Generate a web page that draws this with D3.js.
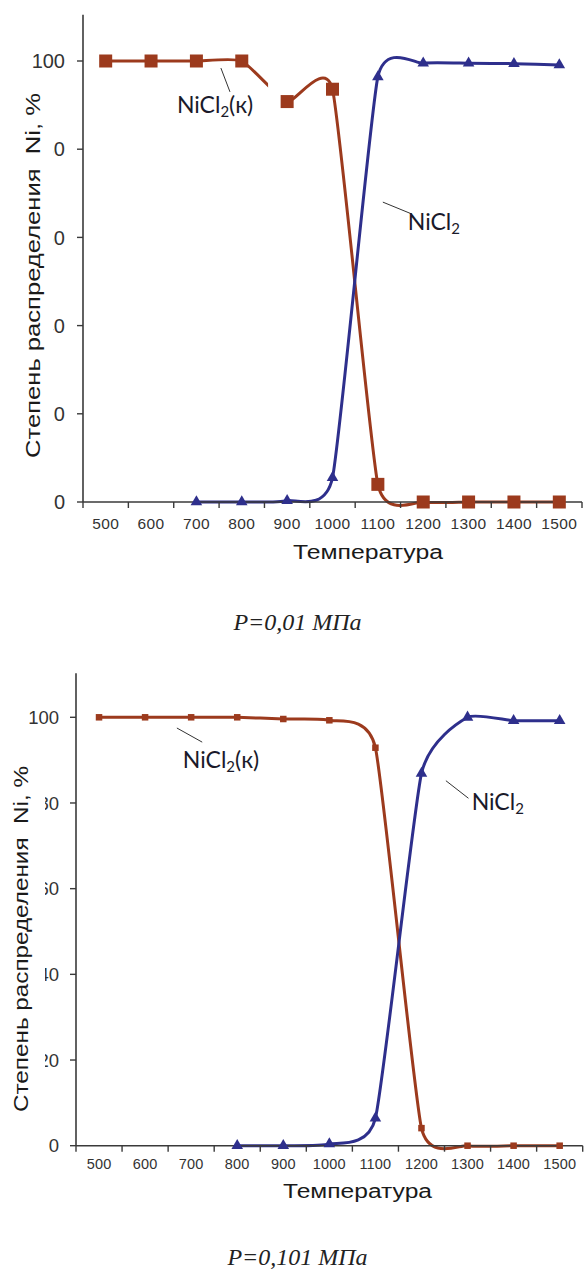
<!DOCTYPE html>
<html>
<head>
<meta charset="utf-8">
<script src="https://cdn.jsdelivr.net/npm/d3@7/dist/d3.min.js"></script>
<style>
  html, body { margin: 0; padding: 0; background: #fff; }
  svg { display: block; }
</style>
</head>
<body>
<svg id="chart" width="584" height="1269"></svg>
<script>
// ---------------- DATA ----------------
const categories = [500, 600, 700, 800, 900, 1000, 1100, 1200, 1300, 1400, 1500];
const yTickValues = [0, 20, 40, 60, 80, 100];

// P = 0.01 MPa
const solidTop = [100, 100, 100, 100, 90.8, 93.6, 4.0, 0, 0, 0, 0];
const gasTop   = [null, null, 0, 0, 0.3, 5.5, 96.4, 99.5, 99.5, 99.4, 99.1];

// P = 0.101 MPa
const solidBottom = [100, 100, 100, 100, 99.6, 99.3, 92.9, 4.1, 0, 0, 0];
const gasBottom   = [null, null, null, 0, 0, 0.4, 6.4, 86.9, 100, 99.2, 99.2];

const xTitleText = "Температура";
const yTitleText = "Степень распределения  Ni, %";
const solidLabel = ["NiCl", "2", "(к)"];
const gasLabel = ["NiCl", "2", ""];
const captions = ["P=0,01 МПа", "P=0,101 МПа"];

// ---------------- STYLE / LAYOUT ----------------
const BROWN = "#9C3A1D";
const BLUE = "#2E2F8C";
const AXIS = "#3a3a3a";

const svg = d3.select("#chart");

const charts = [
  {
    solid: solidTop, gas: gasTop, caption: captions[0],
    left: 83, right: 582, yZero: 502, y100: 61, yMaxVal: 110.5,
    sq: 13, tri: 58, lw: 3,
    xTickFont: 15.5, xTickSpacing: 0.4, xTickDy: 27,
    yTickFont: 20, yTickPad: 18,
    yTitle: { x: 40, y: 275.5, len: 365, font: 21 },
    mask: { x0: 0, x1: 53.5, y0: 80, y1: 470 },
    xTitle: { x: 368, y: 559, len: 150, font: 20 },
    capY: 630,
    solidLab: { i: 1.57, v: 88.2, l: [2.54, 98.4, 2.74, 93.0] },
    gasLab: { i: 6.66, v: 61.7, l: [6.11, 68.0, 6.75, 65.3] },
    labFont: 23,
    gap: { i0: 3.58, i1: 3.88, v0: 84, v1: 99 }
  },
  {
    solid: solidBottom, gas: gasBottom, caption: captions[1],
    left: 76, right: 582.7, yZero: 1145.7, y100: 717.3, yMaxVal: 110.3,
    sq: 6.5, tri: 58, lw: 3,
    xTickFont: 14.5, xTickSpacing: 0.2, xTickDy: 23,
    yTickFont: 18.5, yTickPad: 17,
    yTitle: { x: 28, y: 939, len: 346, font: 20 },
    mask: { x0: 0, x1: 45, y0: 740, y1: 1120 },
    xTitle: { x: 357.5, y: 1198, len: 149, font: 20 },
    capY: 1265,
    solidLab: { i: 1.82, v: 88.2, l: [1.69, 97.5, 2.24, 94.2] },
    gasLab: { i: 8.09, v: 78.4, l: [7.53, 85.2, 8.02, 81.1] },
    labFont: 23,
    gap: null
  }
];

function drawChart(cfg) {
  const g = svg.append("g");
  const x = d3.scaleBand().domain(categories).range([cfg.left, cfg.right]).paddingInner(0).paddingOuter(0);
  const bw = x.bandwidth();
  const xi = d3.scaleLinear().domain([-0.5, categories.length - 0.5]).range([cfg.left, cfg.right]);
  const y = d3.scaleLinear().domain([0, 100]).range([cfg.yZero, cfg.y100]);
  const cx = c => x(c) + bw / 2;

  // Lines
  const line = d3.line()
    .defined(d => d.v != null)
    .x(d => cx(d.c))
    .y(d => y(d.v))
    .curve(d3.curveCardinal.tension(0.5));

  const solidPts = categories.map((c, i) => ({ c, v: cfg.solid[i] }));
  const gasPts = categories.map((c, i) => ({ c, v: cfg.gas[i] }));

  g.append("path").datum(solidPts).attr("d", line)
    .attr("fill", "none").attr("stroke", BROWN).attr("stroke-width", cfg.lw)
    .attr("stroke-linejoin", "round");
  g.append("path").datum(gasPts).attr("d", line)
    .attr("fill", "none").attr("stroke", BLUE).attr("stroke-width", cfg.lw)
    .attr("stroke-linejoin", "round");

  // break in the solid line (as in the original)
  if (cfg.gap) {
    g.append("rect")
      .attr("x", xi(cfg.gap.i0)).attr("y", y(cfg.gap.v1))
      .attr("width", xi(cfg.gap.i1) - xi(cfg.gap.i0))
      .attr("height", y(cfg.gap.v0) - y(cfg.gap.v1))
      .attr("fill", "#fff");
  }

  // Axes
  const yAxisTop = y(cfg.yMaxVal);
  g.append("line").attr("x1", cfg.left).attr("x2", cfg.left)
    .attr("y1", yAxisTop).attr("y2", cfg.yZero)
    .attr("stroke", AXIS).attr("stroke-width", 1.6);
  g.append("line").attr("x1", cfg.left).attr("x2", cfg.right)
    .attr("y1", cfg.yZero).attr("y2", cfg.yZero)
    .attr("stroke", AXIS).attr("stroke-width", 1.6);

  // X ticks at band boundaries
  const bounds = categories.map(c => x(c)).concat([cfg.right]);
  g.selectAll(null).data(bounds).enter().append("line")
    .attr("x1", d => d).attr("x2", d => d)
    .attr("y1", cfg.yZero).attr("y2", cfg.yZero + 6)
    .attr("stroke", AXIS).attr("stroke-width", 1.4);
  g.selectAll(null).data(categories).enter().append("text")
    .attr("x", d => cx(d)).attr("y", cfg.yZero + cfg.xTickDy)
    .attr("text-anchor", "middle")
    .attr("font-family", "'Liberation Sans', Arial, sans-serif")
    .attr("font-size", cfg.xTickFont)
    .attr("letter-spacing", cfg.xTickSpacing)
    .attr("fill", "#333")
    .text(d => d);

  // Y ticks
  g.selectAll(null).data(yTickValues).enter().append("line")
    .attr("x1", cfg.left - 6).attr("x2", cfg.left)
    .attr("y1", d => y(d)).attr("y2", d => y(d))
    .attr("stroke", AXIS).attr("stroke-width", 1.4);
  g.selectAll(null).data(yTickValues).enter().append("text")
    .attr("x", cfg.left - cfg.yTickPad).attr("y", d => y(d))
    .attr("dy", "0.36em")
    .attr("text-anchor", "end")
    .attr("font-family", "'Liberation Sans', Arial, sans-serif")
    .attr("font-size", cfg.yTickFont)
    .attr("fill", "#333")
    .text(d => d);

  // Y title with white background box (clips tick labels as in original)
  g.append("rect")
    .attr("x", cfg.mask.x0).attr("y", cfg.mask.y0)
    .attr("width", cfg.mask.x1 - cfg.mask.x0).attr("height", cfg.mask.y1 - cfg.mask.y0)
    .attr("fill", "#fff");
  g.append("text")
    .attr("transform", `translate(${cfg.yTitle.x},${cfg.yTitle.y}) rotate(-90)`)
    .attr("text-anchor", "middle")
    .attr("font-family", "'Liberation Sans', Arial, sans-serif")
    .attr("font-size", cfg.yTitle.font)
    .attr("fill", "#1a1a1a")
    .attr("textLength", cfg.yTitle.len)
    .attr("lengthAdjust", "spacingAndGlyphs")
    .style("white-space", "pre")
    .text(yTitleText);

  // X title
  g.append("text")
    .attr("x", cfg.xTitle.x).attr("y", cfg.xTitle.y)
    .attr("text-anchor", "middle")
    .attr("font-family", "'Liberation Sans', Arial, sans-serif")
    .attr("font-size", cfg.xTitle.font)
    .attr("fill", "#1a1a1a")
    .attr("textLength", cfg.xTitle.len)
    .attr("lengthAdjust", "spacingAndGlyphs")
    .text(xTitleText);

  // Markers
  g.selectAll(null).data(solidPts.filter(d => d.v != null)).enter().append("rect")
    .attr("x", d => cx(d.c) - cfg.sq / 2).attr("y", d => y(d.v) - cfg.sq / 2)
    .attr("width", cfg.sq).attr("height", cfg.sq)
    .attr("fill", BROWN);
  const tri = d3.symbol().type(d3.symbolTriangle).size(cfg.tri);
  g.selectAll(null).data(gasPts.filter(d => d.v != null)).enter().append("path")
    .attr("transform", d => `translate(${cx(d.c)},${y(d.v)})`)
    .attr("d", tri)
    .attr("fill", BLUE);

  // Series labels with leader lines
  function seriesLabel(lab, parts) {
    g.append("line")
      .attr("x1", xi(lab.l[0])).attr("y1", y(lab.l[1]))
      .attr("x2", xi(lab.l[2])).attr("y2", y(lab.l[3]))
      .attr("stroke", "#333").attr("stroke-width", 1);
    const t = g.append("text")
      .attr("x", xi(lab.i)).attr("y", y(lab.v))
      .attr("font-family", "Lato, 'Open Sans', sans-serif")
      .attr("font-size", cfg.labFont)
      .attr("fill", "#1a1a2a");
    t.append("tspan").text(parts[0]);
    t.append("tspan").attr("font-size", cfg.labFont * 0.65).attr("dy", 4).text(parts[1]);
    if (parts[2]) t.append("tspan").attr("dy", -4).text(parts[2]);
  }
  seriesLabel(cfg.solidLab, solidLabel);
  seriesLabel(cfg.gasLab, gasLabel);

  // Caption
  svg.append("text")
    .attr("x", 297.5).attr("y", cfg.capY)
    .attr("text-anchor", "middle")
    .attr("font-family", "'Liberation Serif', 'Times New Roman', serif")
    .attr("font-style", "italic")
    .attr("font-size", 24)
    .attr("fill", "#222")
    .text(cfg.caption);
}

charts.forEach(drawChart);
</script>
</body>
</html>
